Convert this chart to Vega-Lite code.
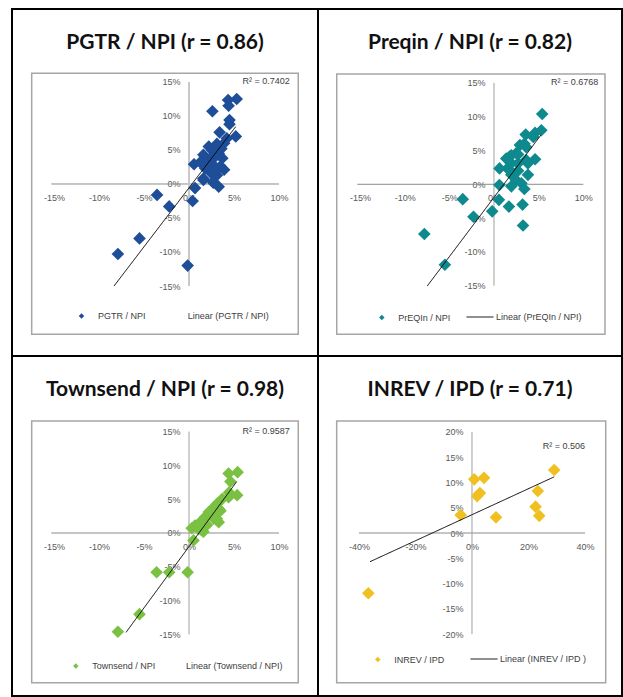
{
  "$schema": "https://vega.github.io/schema/vega-lite/v6.json",
  "padding": {"left": 11, "top": 8, "right": 0, "bottom": 0},
  "background": "white",
  "columns": 2,
  "spacing": 0,
  "bounds": "flush",
  "datasets": {
    "pgtr": [
      {"x": 5.3, "y": 12.5}, {"x": 4.35, "y": 12.35}, {"x": 4.4, "y": 11.5}, {"x": 2.6, "y": 10.7},
      {"x": 4.5, "y": 9.4}, {"x": 4.5, "y": 8.8}, {"x": 3.4, "y": 7.6}, {"x": 5.2, "y": 7.0},
      {"x": 4.2, "y": 6.7}, {"x": 3.9, "y": 6.0}, {"x": 3.3, "y": 5.5}, {"x": 2.55, "y": 5.0},
      {"x": 2.2, "y": 5.5}, {"x": 1.6, "y": 4.3}, {"x": 3.3, "y": 4.5}, {"x": 3.7, "y": 3.8},
      {"x": 0.56, "y": 2.9}, {"x": 1.24, "y": 3.2}, {"x": 2.0, "y": 3.3}, {"x": 2.7, "y": 2.8},
      {"x": 3.5, "y": 2.6}, {"x": 1.8, "y": 2.3}, {"x": 2.4, "y": 1.7}, {"x": 3.1, "y": 1.3},
      {"x": 1.6, "y": 0.6}, {"x": 2.7, "y": 0.35}, {"x": 3.3, "y": -0.4}, {"x": 3.9, "y": 2.1},
      {"x": 2.7, "y": 0.2}, {"x": 1.6, "y": 0.8}, {"x": 2.9, "y": 4.0}, {"x": 3.6, "y": 5.2},
      {"x": 2.3, "y": 3.7}, {"x": 2.0, "y": 2.6}, {"x": 3.0, "y": 2.0}, {"x": 3.1, "y": 5.9},
      {"x": 0.67, "y": -0.6}, {"x": 0.4, "y": -2.5}, {"x": -3.55, "y": -1.6}, {"x": -2.2, "y": -3.3},
      {"x": -5.5, "y": -8.0}, {"x": -7.9, "y": -10.3}, {"x": -0.15, "y": -12.0}
    ],
    "pgtr_trend": [{"x": -8.33, "y": -15.0}, {"x": 5.19, "y": 8.43}],
    "preqin": [
      {"x": 5.4, "y": 10.4}, {"x": 5.3, "y": 8.0}, {"x": 4.6, "y": 7.6}, {"x": 3.55, "y": 7.35},
      {"x": 4.4, "y": 7.0}, {"x": 3.4, "y": 6.0}, {"x": 2.9, "y": 5.8}, {"x": 3.6, "y": 5.5},
      {"x": 2.5, "y": 4.6}, {"x": 2.7, "y": 4.4}, {"x": 1.94, "y": 4.3}, {"x": 1.75, "y": 4.1},
      {"x": 4.6, "y": 3.7}, {"x": 1.37, "y": 3.8}, {"x": 3.6, "y": 3.6}, {"x": 3.8, "y": 3.1},
      {"x": 2.7, "y": 3.1}, {"x": 1.94, "y": 3.1}, {"x": 0.62, "y": 2.35}, {"x": 1.5, "y": 2.35},
      {"x": 1.75, "y": 2.1}, {"x": 2.7, "y": 2.0}, {"x": 3.8, "y": 1.4}, {"x": 1.94, "y": 1.4},
      {"x": 2.5, "y": 0.6}, {"x": 3.07, "y": 0.15}, {"x": 0.6, "y": -0.1}, {"x": 1.94, "y": -0.3},
      {"x": 3.4, "y": -0.7}, {"x": 0.55, "y": -2.3}, {"x": 1.67, "y": -3.3}, {"x": 3.2, "y": -3.0},
      {"x": -0.2, "y": -4.0}, {"x": 3.25, "y": -6.1}, {"x": -3.5, "y": -2.2}, {"x": -2.3, "y": -4.8},
      {"x": -7.8, "y": -7.35}, {"x": -5.5, "y": -11.9}
    ],
    "preqin_trend": [{"x": -7.47, "y": -15.04}, {"x": 5.26, "y": 7.3}],
    "townsend": [
      {"x": 5.4, "y": 9.0}, {"x": 4.4, "y": 8.8}, {"x": 4.6, "y": 7.6}, {"x": 5.35, "y": 5.6},
      {"x": 4.45, "y": 6.0}, {"x": 4.4, "y": 5.3}, {"x": 3.7, "y": 5.05}, {"x": 3.1, "y": 4.3},
      {"x": 2.76, "y": 3.8}, {"x": 3.5, "y": 3.3}, {"x": 3.3, "y": 3.6}, {"x": 2.2, "y": 3.1},
      {"x": 2.55, "y": 3.0}, {"x": 1.8, "y": 2.35}, {"x": 2.0, "y": 2.6}, {"x": 2.76, "y": 2.1},
      {"x": 3.1, "y": 2.1}, {"x": 3.3, "y": 1.6}, {"x": 1.6, "y": 1.6}, {"x": 1.24, "y": 1.6},
      {"x": 0.67, "y": 1.1}, {"x": 0.3, "y": 0.7}, {"x": 1.05, "y": 0.6}, {"x": 1.4, "y": 0.4},
      {"x": 1.6, "y": 0.2}, {"x": 2.0, "y": 1.2}, {"x": 0.5, "y": -1.1}, {"x": -0.15, "y": -5.8},
      {"x": -2.2, "y": -5.8}, {"x": -3.6, "y": -5.8}, {"x": -5.5, "y": -12.0}, {"x": -7.9, "y": -14.6}
    ],
    "townsend_trend": [{"x": -7.0, "y": -14.7}, {"x": 5.3, "y": 7.6}],
    "inrev": [
      {"x": 29.1, "y": 12.45}, {"x": 4.25, "y": 10.9}, {"x": 0.8, "y": 10.6}, {"x": 1.8, "y": 7.3},
      {"x": 2.8, "y": 7.9}, {"x": 23.3, "y": 8.3}, {"x": 22.5, "y": 5.2}, {"x": 23.8, "y": 3.4},
      {"x": 8.5, "y": 3.1}, {"x": -4.0, "y": 3.55}, {"x": -36.7, "y": -11.9}
    ],
    "inrev_trend": [{"x": -36.1, "y": -5.67}, {"x": 29.1, "y": 11.1}]
  },
  "resolve": {
    "scale": {"color": "independent", "strokeDash": "independent"},
    "legend": {"color": "independent", "strokeDash": "independent"}
  },
  "concat": [
    {
      "width": 306, "height": 347,
      "title": {"text": "PGTR / NPI (r = 0.86)"},
      "layer": [
        {"data": {"values": [{}]}, "mark": {"type": "rect", "fill": "transparent", "stroke": "#a6a6a6", "strokeWidth": 1.5},
         "encoding": {"x": {"datum": -17.48, "type": "quantitative"}, "x2": {"datum": 12.14},
                      "y": {"datum": 16.28, "type": "quantitative"}, "y2": {"datum": -22.1}}},
        {"data": {"values": [{}]}, "mark": {"type": "rule", "color": "#8c8c8c", "strokeWidth": 1},
         "encoding": {"x": {"datum": -15.3, "type": "quantitative"}, "x2": {"datum": 10}, "y": {"datum": 0, "type": "quantitative"}}},
        {"data": {"values": [{}]}, "mark": {"type": "rule", "color": "#c8c8c8", "strokeWidth": 2},
         "encoding": {"x": {"datum": 0, "type": "quantitative"}, "y": {"datum": -15, "type": "quantitative"}, "y2": {"datum": 15}}},
        {"data": {"name": "pgtr"}, "mark": {"type": "point", "shape": "diamond", "filled": true, "size": 160, "opacity": 1},
         "encoding": {
           "x": {"field": "x", "type": "quantitative", "scale": {"domain": [-19.667, 14.333], "zero": false, "nice": false},
                 "axis": {"title": null, "values": [-15, -10, -5, 0, 5, 10], "labelExpr": "datum.value + '%'", "offset": -172}},
           "y": {"field": "y", "type": "quantitative", "scale": {"domain": [-25.294, 25.735], "zero": false, "nice": false},
                 "axis": {"title": null, "values": [-15, -10, -5, 0, 5, 10, 15], "labelExpr": "datum.value + '%'", "offset": -177}},
           "color": {"datum": "PGTR / NPI", "type": "nominal", "scale": {"range": ["#1F4E99"]},
                     "legend": {"title": null, "legendX": 65, "legendY": 302.5, "symbolType": "diamond", "symbolSize": 30, "labelOffset": 12}}
         }},
        {"data": {"name": "pgtr_trend"}, "mark": {"type": "line", "color": "black", "strokeWidth": 1},
         "encoding": {"x": {"field": "x", "type": "quantitative"}, "y": {"field": "y", "type": "quantitative"},
                      "strokeDash": {"datum": "Linear (PGTR / NPI)", "type": "nominal", "scale": {"range": [[1, 0]]},
                                     "legend": {"title": null, "legendX": 145.7, "legendY": 292.5, "symbolType": "stroke", "symbolSize": 729, "symbolStrokeColor": "transparent", "labelOffset": 2}}}},
        {"data": {"values": [{}]}, "mark": {"type": "text", "align": "right", "baseline": "middle", "font": "Liberation Sans", "fontSize": 9, "color": "#404040"},
         "encoding": {"x": {"datum": 11.2, "type": "quantitative"}, "y": {"datum": 15.15, "type": "quantitative"}, "text": {"value": "R² = 0.7402"}}}
      ]
    },
    {
      "width": 304, "height": 347,
      "title": {"text": "Preqin / NPI (r = 0.82)"},
      "layer": [
        {"data": {"values": [{}]}, "mark": {"type": "rect", "fill": "transparent", "stroke": "#a6a6a6", "strokeWidth": 1.5},
         "encoding": {"x": {"datum": -17.61, "type": "quantitative"}, "x2": {"datum": 12.43},
                      "y": {"datum": 16.32, "type": "quantitative"}, "y2": {"datum": -22.19}}},
        {"data": {"values": [{}]}, "mark": {"type": "rule", "color": "#8c8c8c", "strokeWidth": 1},
         "encoding": {"x": {"datum": -15.3, "type": "quantitative"}, "x2": {"datum": 10}, "y": {"datum": 0, "type": "quantitative"}}},
        {"data": {"values": [{}]}, "mark": {"type": "rule", "color": "#a0a0a0", "strokeWidth": 1},
         "encoding": {"x": {"datum": 0, "type": "quantitative"}, "y": {"datum": -15, "type": "quantitative"}, "y2": {"datum": 15}}},
        {"data": {"name": "preqin"}, "mark": {"type": "point", "shape": "diamond", "filled": true, "size": 160, "opacity": 1},
         "encoding": {
           "x": {"field": "x", "type": "quantitative", "scale": {"domain": [-19.709, 14.334], "zero": false, "nice": false},
                 "axis": {"title": null, "values": [-15, -10, -5, 0, 5, 10], "labelExpr": "datum.value + '%'", "offset": -171.7}},
           "y": {"field": "y", "type": "quantitative", "scale": {"domain": [-25.4, 25.93], "zero": false, "nice": false},
                 "axis": {"title": null, "values": [-15, -10, -5, 0, 5, 10, 15], "labelExpr": "datum.value + '%'", "offset": -176}},
           "color": {"datum": "PrEQIn / NPI", "type": "nominal", "scale": {"range": ["#0E8A8F"]},
                     "legend": {"title": null, "legendX": 59.3, "legendY": 304, "symbolType": "diamond", "symbolSize": 30, "labelOffset": 12}}
         }},
        {"data": {"name": "preqin_trend"}, "mark": {"type": "line", "color": "black", "strokeWidth": 1},
         "encoding": {"x": {"field": "x", "type": "quantitative"}, "y": {"field": "y", "type": "quantitative"},
                      "strokeDash": {"datum": "Linear (PrEQIn / NPI)", "type": "nominal", "scale": {"range": [[1, 0]]},
                                     "legend": {"title": null, "legendX": 148, "legendY": 294, "symbolType": "stroke", "symbolSize": 729, "symbolStrokeColor": "black", "labelOffset": 2}}}},
        {"data": {"values": [{}]}, "mark": {"type": "text", "align": "right", "baseline": "middle", "font": "Liberation Sans", "fontSize": 9, "color": "#404040"},
         "encoding": {"x": {"datum": 11.68, "type": "quantitative"}, "y": {"datum": 15.2, "type": "quantitative"}, "text": {"value": "R² = 0.6768"}}}
      ]
    },
    {
      "width": 306, "height": 340,
      "title": {"text": "Townsend / NPI (r = 0.98)"},
      "layer": [
        {"data": {"values": [{}]}, "mark": {"type": "rect", "fill": "transparent", "stroke": "#a6a6a6", "strokeWidth": 1.5},
         "encoding": {"x": {"datum": -17.48, "type": "quantitative"}, "x2": {"datum": 12.14},
                      "y": {"datum": 16.57, "type": "quantitative"}, "y2": {"datum": -22.14}}},
        {"data": {"values": [{}]}, "mark": {"type": "rule", "color": "#8c8c8c", "strokeWidth": 1},
         "encoding": {"x": {"datum": -15.3, "type": "quantitative"}, "x2": {"datum": 10}, "y": {"datum": 0, "type": "quantitative"}}},
        {"data": {"values": [{}]}, "mark": {"type": "rule", "color": "#a0a0a0", "strokeWidth": 1},
         "encoding": {"x": {"datum": 0, "type": "quantitative"}, "y": {"datum": -15, "type": "quantitative"}, "y2": {"datum": 15}}},
        {"data": {"name": "townsend"}, "mark": {"type": "point", "shape": "diamond", "filled": true, "size": 160, "opacity": 1},
         "encoding": {
           "x": {"field": "x", "type": "quantitative", "scale": {"domain": [-19.667, 14.333], "zero": false, "nice": false},
                 "axis": {"title": null, "values": [-15, -10, -5, 0, 5, 10], "labelExpr": "datum.value + '%'", "offset": -163}},
           "y": {"field": "y", "type": "quantitative", "scale": {"domain": [-24.11, 26.18], "zero": false, "nice": false},
                 "axis": {"title": null, "values": [-15, -10, -5, 0, 5, 10, 15], "labelExpr": "datum.value + '%'", "offset": -177}},
           "color": {"datum": "Townsend / NPI", "type": "nominal", "scale": {"range": ["#7AC143"]},
                     "legend": {"title": null, "legendX": 59.3, "legendY": 305.5, "symbolType": "diamond", "symbolSize": 30, "labelOffset": 12}}
         }},
        {"data": {"name": "townsend_trend"}, "mark": {"type": "line", "color": "black", "strokeWidth": 1},
         "encoding": {"x": {"field": "x", "type": "quantitative"}, "y": {"field": "y", "type": "quantitative"},
                      "strokeDash": {"datum": "Linear (Townsend / NPI)", "type": "nominal", "scale": {"range": [[1, 0]]},
                                     "legend": {"title": null, "legendX": 144, "legendY": 295.5, "symbolType": "stroke", "symbolSize": 729, "symbolStrokeColor": "transparent", "labelOffset": 2}}}},
        {"data": {"values": [{}]}, "mark": {"type": "text", "align": "right", "baseline": "middle", "font": "Liberation Sans", "fontSize": 9, "color": "#404040"},
         "encoding": {"x": {"datum": 11.2, "type": "quantitative"}, "y": {"datum": 15.1, "type": "quantitative"}, "text": {"value": "R² = 0.9587"}}}
      ]
    },
    {
      "width": 304, "height": 340,
      "title": {"text": "INREV / IPD (r = 0.71)"},
      "layer": [
        {"data": {"values": [{}]}, "mark": {"type": "rect", "fill": "transparent", "stroke": "#a6a6a6", "strokeWidth": 1.5},
         "encoding": {"x": {"datum": -47.9, "type": "quantitative"}, "x2": {"datum": 47.33},
                      "y": {"datum": 22.13, "type": "quantitative"}, "y2": {"datum": -29.58}}},
        {"data": {"values": [{}]}, "mark": {"type": "rule", "color": "#8c8c8c", "strokeWidth": 1},
         "encoding": {"x": {"datum": -40, "type": "quantitative"}, "x2": {"datum": 40}, "y": {"datum": 0, "type": "quantitative"}}},
        {"data": {"values": [{}]}, "mark": {"type": "rule", "color": "#a0a0a0", "strokeWidth": 1},
         "encoding": {"x": {"datum": 0, "type": "quantitative"}, "y": {"datum": -20, "type": "quantitative"}, "y2": {"datum": 20}}},
        {"data": {"name": "inrev"}, "mark": {"type": "point", "shape": "diamond", "filled": true, "size": 160, "opacity": 1},
         "encoding": {
           "x": {"field": "x", "type": "quantitative", "scale": {"domain": [-54.51, 53.1], "zero": false, "nice": false},
                 "axis": {"title": null, "values": [-40, -20, 0, 20, 40], "labelExpr": "datum.value + '%'", "offset": -163}},
           "y": {"field": "y", "type": "quantitative", "scale": {"domain": [-32.21, 34.98], "zero": false, "nice": false},
                 "axis": {"title": null, "values": [-20, -15, -10, -5, 0, 5, 10, 15, 20], "labelExpr": "datum.value + '%'", "offset": -154}},
           "color": {"datum": "INREV / IPD", "type": "nominal", "scale": {"range": ["#F0C020"]},
                     "legend": {"title": null, "legendX": 55.3, "legendY": 299, "symbolType": "diamond", "symbolSize": 30, "labelOffset": 12}}
         }},
        {"data": {"name": "inrev_trend"}, "mark": {"type": "line", "color": "black", "strokeWidth": 1},
         "encoding": {"x": {"field": "x", "type": "quantitative"}, "y": {"field": "y", "type": "quantitative"},
                      "strokeDash": {"datum": "Linear (INREV / IPD )", "type": "nominal", "scale": {"range": [[1, 0]]},
                                     "legend": {"title": null, "legendX": 152, "legendY": 289, "symbolType": "stroke", "symbolSize": 729, "symbolStrokeColor": "black", "labelOffset": 2}}}},
        {"data": {"values": [{}]}, "mark": {"type": "text", "align": "right", "baseline": "middle", "font": "Liberation Sans", "fontSize": 9, "color": "#404040"},
         "encoding": {"x": {"datum": 40, "type": "quantitative"}, "y": {"datum": 17.2, "type": "quantitative"}, "text": {"value": "R² = 0.506"}}}
      ]
    }
  ],
  "config": {
    "view": {"stroke": "black", "strokeWidth": 2},
    "title": {"font": "Lato", "fontSize": 21, "fontWeight": "bold", "color": "#111111", "offset": -44, "anchor": "middle"},
    "axis": {"domain": false, "ticks": false, "tickSize": 0, "grid": false, "labelPadding": 9,
             "labelFont": "Liberation Sans", "labelFontSize": 9, "labelColor": "#595959",
             "labelFlush": false, "labelOverlap": false, "labelBound": false},
    "axisY": {"labelBaseline": "middle"},
    "legend": {"orient": "none", "direction": "horizontal", "labelFont": "Liberation Sans", "labelFontSize": 9,
               "labelColor": "#404040", "padding": 0, "symbolStrokeWidth": 1}
  }
}
